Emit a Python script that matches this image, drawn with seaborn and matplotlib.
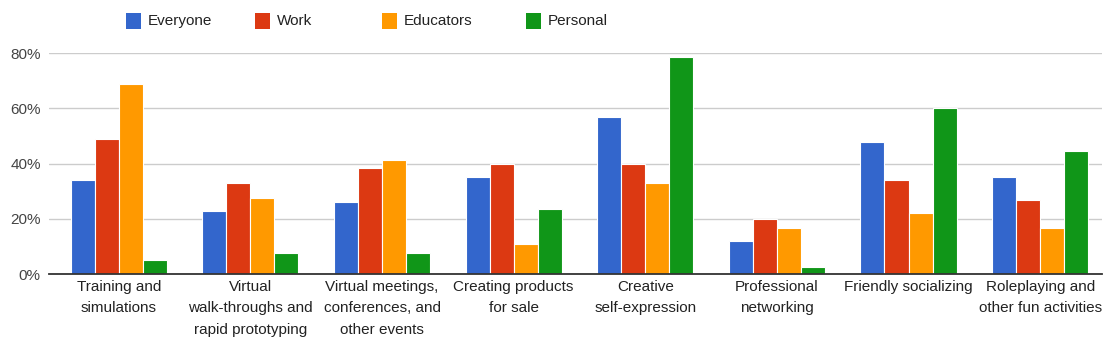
import matplotlib
matplotlib.use("Agg")
import matplotlib.pyplot as plt
from matplotlib.patches import Rectangle
import seaborn as sns
import pandas as pd

categories = [
    "Training and\nsimulations",
    "Virtual\nwalk-throughs and\nrapid prototyping",
    "Virtual meetings,\nconferences, and\nother events",
    "Creating products\nfor sale",
    "Creative\nself-expression",
    "Professional\nnetworking",
    "Friendly socializing",
    "Roleplaying and\nother fun activities",
]
series_names = ["Everyone", "Work", "Educators", "Personal"]
everyone = [34, 23, 26, 35, 57, 12, 48, 35]
work = [49, 33, 38.5, 40, 40, 20, 34, 27]
educators = [69, 27.5, 41.5, 11, 33, 16.5, 22, 16.5]
personal = [5, 7.5, 7.5, 23.5, 78.5, 2.5, 60, 44.5]
y_ticks = [0, 20, 40, 60, 80]
y_tick_labels = ["0%", "20%", "40%", "60%", "80%"]
colors = ["#3366CC", "#DC3912", "#FF9900", "#109618"]

rows = []
for name, vals in zip(series_names, [everyone, work, educators, personal]):
    for c, v in zip(categories, vals):
        rows.append({"category": c, "series": name, "value": v})
df = pd.DataFrame(rows)

sns.set_style("white")
plt.rcParams["font.family"] = ["Liberation Sans", "DejaVu Sans"]

fig = plt.figure(figsize=(11.04, 3.48), dpi=100)
ax = fig.add_axes([49 / 1104, 1 - 274 / 348, 1053 / 1104, (274 - 53.3) / 348])

sns.barplot(data=df, x="category", y="value", hue="series", order=categories,
            hue_order=series_names, palette=colors, width=0.73, ax=ax,
            edgecolor="white", linewidth=0.8, saturation=1, legend=False)

ax.set_ylim(0, 80)
ax.set_xlim(-0.53, 7.47)
ax.set_yticks(y_ticks)
ax.set_yticklabels(y_tick_labels, fontsize=11, color="#444444")
ax.set_xlabel("")
ax.set_ylabel("")
ax.grid(axis="y", color="#cccccc", linewidth=1)
ax.set_axisbelow(True)
for s in ["top", "right", "left"]:
    ax.spines[s].set_visible(False)
ax.spines["bottom"].set_color("#333333")
ax.spines["bottom"].set_linewidth(1.3)
ax.spines["bottom"].set_zorder(5)
ax.tick_params(axis="y", length=0, pad=6)
ax.tick_params(axis="x", length=0, pad=4, labelsize=11, labelcolor="#222222")
for lbl in ax.get_xticklabels():
    lbl.set_linespacing(1.72)

# legend
W, H = 1104, 348
leg_x = [126, 255, 382, 526]
for x, c, name in zip(leg_x, colors, series_names):
    fig.patches.append(Rectangle((x / W, 1 - 28.5 / H), 15 / W, 15 / H,
                                 transform=fig.transFigure, facecolor=c,
                                 edgecolor="none"))
    fig.text((x + 22) / W, 1 - 21 / H, name, fontsize=11, color="#222222",
             va="center", ha="left")

fig.savefig("out.png", dpi=100)
